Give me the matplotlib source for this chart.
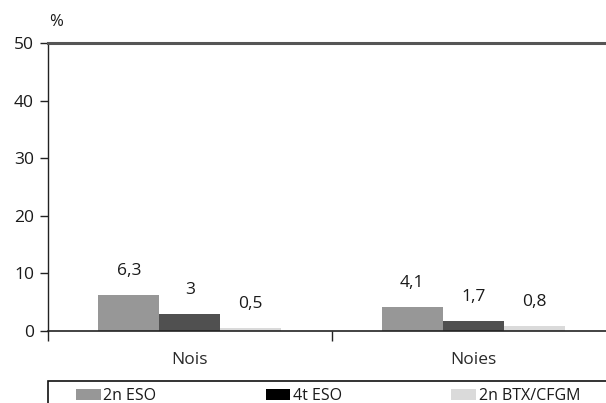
import matplotlib
matplotlib.use("Agg")
import matplotlib.pyplot as plt
from matplotlib.patches import Patch, Rectangle
import numpy as np

plt.rcParams['font.family'] = ['Open Sans', 'DejaVu Sans']

categories = ["Nois", "Noies"]
series_names = ["2n ESO", "4t ESO", "2n BTX/CFGM"]
v_2n_eso = [6.3, 4.1]
v_4t_eso = [3.0, 1.7]
v_btx = [0.5, 0.8]
series_values = [v_2n_eso, v_4t_eso, v_btx]
value_labels = [["6,3", "4,1"], ["3", "1,7"], ["0,5", "0,8"]]
yticks = [0, 10, 20, 30, 40, 50]

bar_colors = ["#979797", "#505050", "#dadada"]
legend_colors = ["#979797", "#000000", "#dadada"]

W, H = 606, 403
fig = plt.figure(figsize=(W / 100, H / 100), dpi=100)
ax = fig.add_axes([48 / W, (H - 331) / H, 567 / W, 288 / H])

x = np.arange(len(categories))
bw = 0.215
for i, (vals, col, labs) in enumerate(zip(series_values, bar_colors, value_labels)):
    pos = x + (i - 1) * bw
    ax.bar(pos, vals, width=bw, color=col, linewidth=0, zorder=2)
    for p, v, lab in zip(pos, vals, labs):
        ax.annotate(lab, (p, v), xytext=(0, 24), textcoords='offset pixels',
                    ha='center', va='center', fontsize=12.5, color='#1a1a1a')

ax.set_xlim(-0.5, 1.5)
ax.set_ylim(0, 50)
ax.set_yticks(yticks)
ax.set_yticklabels([str(t) for t in yticks], fontsize=12.5, color='#1a1a1a')
ax.tick_params(axis='y', length=6, width=1, pad=4, color='#222222')

ax.set_xticks(x)
ax.set_xticklabels(categories, fontsize=12.5, color='#2a2a2a')
ax.tick_params(axis='x', length=0, pad=15)
ax.set_xticks([-0.5, 0.5, 1.5], minor=True)
ax.tick_params(axis='x', which='minor', length=7, width=1, direction='out', color='#222222')

ax.spines['right'].set_visible(False)
ax.spines['top'].set_color('#555555')
ax.spines['top'].set_linewidth(2.2)
ax.spines['left'].set_color('#222222')
ax.spines['bottom'].set_color('#222222')
ax.spines['left'].set_linewidth(1)
ax.spines['bottom'].set_linewidth(1.2)

fig.text(56 / W, 1 - 22 / H, "%", fontsize=12, ha='center', va='center', color='#1a1a1a')

# legend frame (runs past the right and bottom edges, as in the reference)
fig.add_artist(Rectangle((48 / W, -20 / H), 600 / W, (H - 381 + 20) / H,
                         transform=fig.transFigure, facecolor='none',
                         edgecolor='#111111', linewidth=1.2))

handles = [Patch(facecolor=c, edgecolor='none') for c in legend_colors]
leg = fig.legend(handles, series_names, loc='center left', ncol=3,
                 bbox_to_anchor=(76 / W, 1 - 396 / H),
                 frameon=False, fontsize=11.5,
                 handlelength=1.55, handleheight=0.75, handletextpad=0.15,
                 columnspacing=6.85, borderaxespad=0, borderpad=0,
                 labelcolor='#1a1a1a')

fig.savefig("out.png", dpi=100)
